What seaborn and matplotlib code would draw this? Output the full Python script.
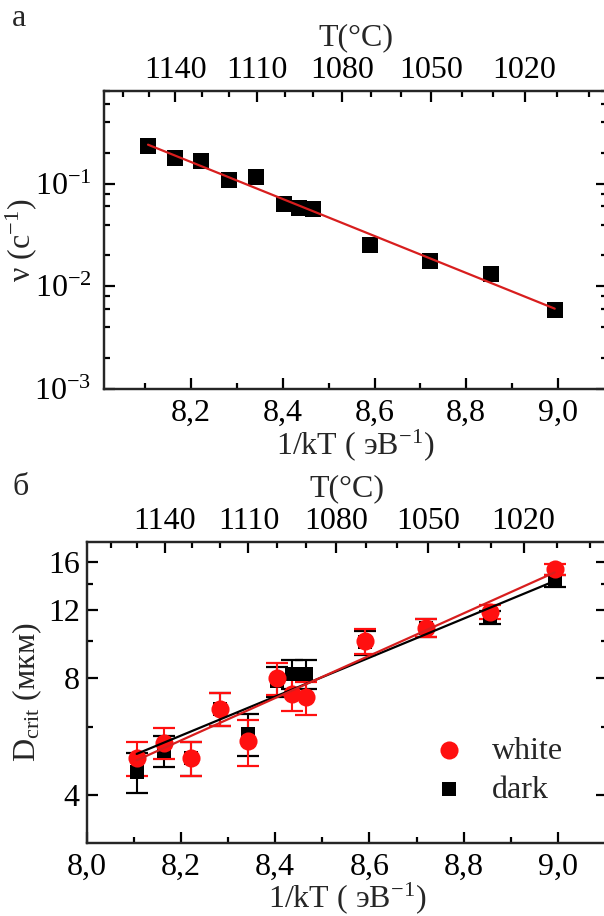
import numpy as np
import pandas as pd
import matplotlib
matplotlib.use('Agg')
import matplotlib.pyplot as plt
import matplotlib.ticker as mticker
import seaborn as sns

# 1/kT (eV^-1) - same annealing temperatures in both panels
inv_kT = [8.106, 8.164, 8.222, 8.282, 8.342, 8.403, 8.435, 8.465, 8.591, 8.721, 8.855, 8.993]

# panel a: frequency nu (s^-1)
nu = [0.235, 0.178, 0.168, 0.108, 0.116, 0.064, 0.058, 0.057, 0.0252, 0.0176, 0.0131, 0.0059]

# panel b: critical size D_crit (um), white / dark
d_white = [4.98, 5.44, 4.98, 6.67, 5.5, 8.0, 7.29, 7.14, 10.0, 10.8, 11.9, 15.3]
err_white = [0.5, 0.5, 0.5, 0.65, 0.75, 0.75, 0.7, 0.7, 0.75, 0.6, 0.5, 0.5]
d_dark = [4.58, 5.2, 4.98, 6.67, 5.75, 7.87, 8.22, 8.22, 9.9, 10.8, 11.5, 14.3]
err_dark = [0.55, 0.47, 0.5, 0.65, 0.7, 0.7, 0.7, 0.7, 0.7, 0.55, 0.45, 0.5]

# top axis temperatures (C)
t_major = [1140, 1110, 1080, 1050, 1020]
t_minor = list(range(1160, 995, -10))

x_major = [8.0, 8.2, 8.4, 8.6, 8.8, 9.0]
x_minor = [8.1, 8.3, 8.5, 8.7, 8.9]

RED = '#ff1010'
RED_LINE = '#d81e1e'

k_B = 8.617e-5
shift = -0.047  # offset of the temperature scale as drawn in the original


def t_to_x(t):
    return 1.0 / (k_B * (np.asarray(t, dtype=float) + 273.15)) + shift


def exp_fit(x, y, err=None):
    # straight line in log(y) vs x, weighted by relative error
    x = np.asarray(x)
    y = np.asarray(y)
    w = None if err is None else y / np.asarray(err)
    p = np.polyfit(x, np.log(y), 1, w=w)
    xf = np.array([x.min(), x.max()])
    return xf, np.exp(np.polyval(p, xf))


def comma(v, pos):
    return ('%.1f' % v).replace('.', ',')


def add_top_temperature(ax):
    top = ax.twiny()
    top.set_xticks(t_to_x(t_major))
    top.set_xticklabels([str(t) for t in t_major])
    top.set_xticks(t_to_x(t_minor), minor=True)
    top.set_xlim(ax.get_xlim())
    top.set_xlabel('T(°C)', labelpad=8)
    top.tick_params(axis='x', which='major', pad=4)
    return top


sns.set_style('ticks')
plt.rcParams['font.family'] = ['Liberation Serif', 'DejaVu Serif']
plt.rcParams['mathtext.fontset'] = 'custom'
plt.rcParams['mathtext.rm'] = 'Liberation Serif'
plt.rcParams['mathtext.it'] = 'Liberation Serif:italic'
plt.rcParams['axes.unicode_minus'] = False
plt.rcParams['font.size'] = 23
plt.rcParams['axes.linewidth'] = 1.6
for a in ('xtick', 'ytick'):
    plt.rcParams[a + '.direction'] = 'in'
    plt.rcParams[a + '.major.size'] = 8
    plt.rcParams[a + '.minor.size'] = 4
    plt.rcParams[a + '.major.width'] = 1.6
    plt.rcParams[a + '.minor.width'] = 1.6
    plt.rcParams[a + '.labelsize'] = 23
    plt.rcParams[a + '.color'] = 'black'

fig = plt.figure(figsize=(6.04, 9.16), dpi=100)
W, H = 604.0, 916.0

# ---------- panel a ----------
ax1 = fig.add_axes([104 / W, 1 - 389 / H, 503 / W, (389 - 91) / H])
df_a = pd.DataFrame({'x': inv_kT, 'nu': nu})
sns.scatterplot(data=df_a, x='x', y='nu', marker='s', s=145, color='black',
                edgecolor='black', linewidth=0, ax=ax1, zorder=3)
xf, yf = exp_fit(inv_kT, nu)
sns.lineplot(x=xf, y=yf, color=RED_LINE, linewidth=1.6, ax=ax1, zorder=4)
ax1.set_yscale('log')
ax1.yaxis.set_major_locator(mticker.LogLocator(base=10, numticks=10))
ax1.yaxis.set_minor_locator(mticker.LogLocator(base=10, subs=[2, 4, 6, 8], numticks=10))
ax1.yaxis.set_minor_formatter(mticker.NullFormatter())
ax1.set_xticks(x_major)
ax1.set_xticks(x_minor, minor=True)
ax1.xaxis.set_major_formatter(mticker.FuncFormatter(comma))
ax1.set_xlim(8.01, 9.107)
ax1.set_ylim(1e-3, 0.8)
ax1.tick_params(which='both', right=True, top=False)
ax1.tick_params(axis='x', which='major', pad=7)
ax1.tick_params(axis='y', which='major', pad=9)
ax1.set_xlabel('1/kT ( эВ$^{-1}$)', labelpad=0)
ax1.set_ylabel('ν (c$^{-1}$)', labelpad=-3)
add_top_temperature(ax1)

# ---------- panel b ----------
ax2 = fig.add_axes([86.7 / W, 1 - 843 / H, 520.3 / W, (843 - 542) / H])
ax2.errorbar(inv_kT, d_dark, yerr=err_dark, fmt='none', ecolor='black',
             elinewidth=1.5, capsize=8, capthick=1.6, zorder=2)
ax2.errorbar(inv_kT, d_white, yerr=err_white, fmt='none', ecolor=RED,
             elinewidth=1.5, capsize=8, capthick=1.6, zorder=2)
df_b = pd.DataFrame({'x': inv_kT, 'white': d_white, 'dark': d_dark})
sns.scatterplot(data=df_b, x='x', y='dark', marker='s', s=110, color='black',
                linewidth=0, ax=ax2, zorder=3, label='dark')
sns.scatterplot(data=df_b, x='x', y='white', marker='o', s=170, color=RED,
                linewidth=0, ax=ax2, zorder=3, label='white')
xf, yf = exp_fit(inv_kT, d_dark, err_dark)
sns.lineplot(x=xf, y=yf, color='black', linewidth=1.6, ax=ax2, zorder=4)
xf, yf = exp_fit(inv_kT, d_white, err_white)
sns.lineplot(x=xf, y=yf, color=RED_LINE, linewidth=1.6, ax=ax2, zorder=4)
ax2.set_yscale('log')
ax2.set_yticks([4, 8, 12, 16])
ax2.set_yticks([6, 10, 14], minor=True)
ax2.yaxis.set_major_formatter(mticker.FuncFormatter(lambda v, p: '%d' % v))
ax2.yaxis.set_minor_formatter(mticker.NullFormatter())
ax2.set_xticks(x_major)
ax2.set_xticks(x_minor, minor=True)
ax2.xaxis.set_major_formatter(mticker.FuncFormatter(comma))
ax2.set_xlim(8.0, 9.104)
ax2.set_ylim(3, 18)
ax2.tick_params(which='both', right=True, top=False)
ax2.tick_params(axis='x', which='major', pad=7)
ax2.tick_params(axis='y', which='major', pad=5)
ax2.set_xlabel('1/kT ( эВ$^{-1}$)', labelpad=-1)
ax2.set_ylabel('D$_{\\mathrm{crit}}$ (мкм)', labelpad=3)
handles, labels = ax2.get_legend_handles_labels()
order = [labels.index('white'), labels.index('dark')]
ax2.legend([handles[i] for i in order], [labels[i] for i in order],
           loc='upper left', bbox_to_anchor=(0.58, 0.45), frameon=False,
           handletextpad=0.35, labelspacing=0.3, fontsize=23, markerscale=1.0)
add_top_temperature(ax2)

fig.text(12 / W, 1 - 18 / H, 'a', fontsize=23, va='center', ha='left')
fig.text(12 / W, 1 - 487 / H, 'б', fontsize=23, va='center', ha='left')

fig.savefig('out.png', dpi=100)
